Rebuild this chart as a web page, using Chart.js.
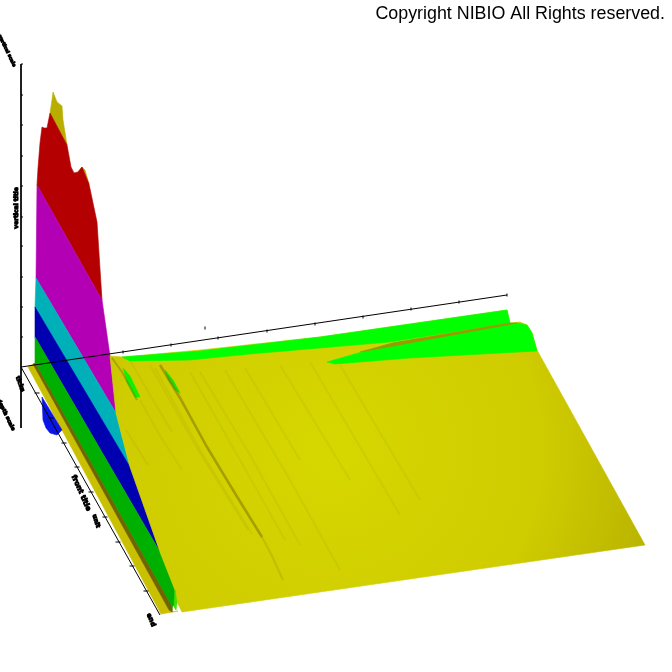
<!DOCTYPE html>
<html>
<head>
<meta charset="utf-8">
<title>Surface plot</title>
<script src="https://cdn.jsdelivr.net/npm/chart.js@4"></script>
<style>
  html, body { margin: 0; padding: 0; background: #fff; }
  canvas { display: block; }
</style>
</head>
<body>
<canvas id="surface" width="672" height="672"></canvas>
<script>

const surfaceOutline = [[110,356],[123,357],[200,350],[320,337],[507,310],[510,323],[520,322],[527,325],[532,333],[537,350],[645,545],[182,612],[176,600],[175,590],[160,552],[130,467],[116,413]];
const oliveCap = [[50,113],[52,100],[53,92],[57,102],[62,106],[63,120],[67,145]];
const oliveSideCap = [[82,167],[85,170],[89,184],[78,172]];
const redBand = [[37,185],[38,168],[40,143],[42,127],[44,128],[47,128],[50,113],[67,145],[71,167],[74,173],[78,172],[82,167],[89,184],[97,222],[102,300]];
const magentaBand = [[37,185],[102,300],[110,356],[116,413],[36,278]];
const cyanBand = [[36,278],[116,413],[122,437],[130,467],[35,307]];
const blueBand = [[35,307],[130,467],[160,552],[35,337]];
const greenBand = [[35,337],[160,552],[175,590],[177,603],[172,607],[35,363]];
const darkStrip = [[33,364],[35,363],[172,607],[172,612],[169,610]];
const lowerStrip = [[28,367],[33,364],[169,610],[172,612],[178,611],[161,614]];
const blueBlob = [[42,397],[43,420],[46,428],[50,433],[57,435],[62,430]];
const topGreen = [[122,357],[200,351],[320,337],[507,310],[510,323],[390,342],[320,348],[250,354],[190,360],[130,361]];
const lowerGreen = [[327,362],[393,343],[517,323],[527,325],[532,333],[537,351],[410,358],[335,364]];
const brownBand = [[393,343],[510,323],[517,323],[393,346],[360,352]];
const greenSpotA = [[123,368],[130,376],[140,397],[135,397],[127,382]];
const greenSpotB = [[165,370],[173,380],[180,393],[175,390],[168,379]];
const edgeGreen = [[175,590],[177,603],[176,610],[174,607]];

const cornerStreak = [[112,358],[122,372],[137,400]];
const mainStreak = [[160,365],[180,398],[207,447],[236,495],[262,537]];
const tailStreak = [[262,537],[272,556],[283,580]];
const streaks = [
  [[131,362],[150,395],[172,432]],
  [[150,365],[195,445],[248,530]],
  [[155,368],[200,450],[252,534]],
  [[126,430],[148,465]],
  [[140,400],[160,436],[182,470]],
  [[190,372],[240,460],[285,540]],
  [[200,372],[250,455],[300,545]],
  [[225,370],[290,480],[340,570]],
  [[245,368],[300,460]],
  [[280,365],[350,480]],
  [[310,362],[400,515]],
  [[340,365],[420,500]]
];

const zAxis = [[21,64],[21,428]];
const baseAxis = [[21,367],[507,295]];
const frontAxis = [[21,367],[160,615]];
const zTicksX = [22,22,22,22,22,22,22,22,22,22];
const zTicksY = [64,95,125,156,186,217,246,277,307,337];
const baseTicksX = [123,171,218,267,315,363,411,459,507,205];
const baseTicksY = [352,345,338,331,324,317,309,302,295,328];
const frontTicksX = [37,51,64,77,91,105,118,132,146];
const frontTicksY = [393,418,443,467,492,517,542,566,591];

const copyrightText = 'Copyright NIBIO All Rights reserved.';
// the axis titles are unreadable in the source, these only hold their place
const axisLabels = [
  { text: 'vertical scale', x: 7, y: 51, angle: 64, size: 4.6 },
  { text: 'vertical title', x: 16, y: 208, angle: -90, size: 6 },
  { text: 'depth scale', x: 6, y: 415, angle: 64, size: 5.2 },
  { text: 'ticks', x: 20, y: 384, angle: 70, size: 6 },
  { text: 'front title', x: 81, y: 493, angle: 66, size: 7 },
  { text: 'unit', x: 96, y: 521, angle: 72, size: 6 },
  { text: 'end', x: 151, y: 620, angle: 68, size: 6.5 }
];

function toPoints(list) {
  return list.map(p => ({ x: p[0], y: p[1] }));
}

function shape(list, color) {
  return {
    data: toPoints(list).concat(toPoints(list.slice(0, 1))),
    showLine: true,
    fill: 'shape',
    backgroundColor: color,
    borderColor: color,
    borderWidth: 0.6,
    pointRadius: 0,
    tension: 0
  };
}

function line(list, color, width) {
  return {
    data: toPoints(list),
    showLine: true,
    fill: false,
    borderColor: color,
    borderWidth: width,
    pointRadius: 0,
    tension: 0
  };
}

function ticks(xs, ys, style, size, rotation) {
  return {
    data: xs.map((x, i) => ({ x: x, y: ys[i] })),
    showLine: false,
    pointStyle: style,
    pointRadius: size,
    pointRotation: rotation,
    pointBorderColor: '#000',
    pointBorderWidth: 1,
    pointBackgroundColor: '#000'
  };
}

// radial shading of the big sheet, brightest near its middle
function sheetFill(context) {
  const g = context.chart.ctx.createRadialGradient(330, 450, 20, 330, 450, 340);
  g.addColorStop(0, '#d6d600');
  g.addColorStop(0.6, '#cfcc00');
  g.addColorStop(1, '#b8b200');
  return g;
}

const layers = [
  shape(lowerStrip, '#c8c000'),
  shape(blueBlob, '#0a14e6'),
  shape(oliveCap, '#b8ae00'),
  shape(oliveSideCap, '#b8ae00'),
  shape(redBand, '#b40000'),
  shape(magentaBand, '#b400b4'),
  shape(cyanBand, '#00b0b8'),
  shape(blueBand, '#0000b0'),
  shape(greenBand, '#00b000'),
  shape(darkStrip, '#6e6400'),
  shape(surfaceOutline, sheetFill),
  shape(topGreen, '#00ff00'),
  shape(lowerGreen, '#00ff00'),
  shape(brownBand, '#a09400'),
  shape(greenSpotA, '#10f000'),
  shape(greenSpotB, '#20e000'),
  shape(edgeGreen, '#40e000')
].concat(
  streaks.map(s => line(s, 'rgba(140,130,0,0.1)', 2))
).concat([
  line(cornerStreak, 'rgba(120,110,0,0.4)', 2),
  line(mainStreak, 'rgba(120,110,0,0.5)', 2.5),
  line(tailStreak, 'rgba(130,120,0,0.22)', 2),
  line(zAxis, '#000', 1),
  line(baseAxis, '#000', 1),
  line(frontAxis, '#000', 1),
  ticks(zTicksX, zTicksY, 'line', 1, 0),
  ticks(baseTicksX, baseTicksY, 'line', 1.5, 90),
  ticks(frontTicksX, frontTicksY, 'line', 2.5, 0)
]);

const textPlugin = {
  id: 'plotText',
  afterDraw(chart) {
    const c = chart.ctx;
    c.save();
    c.fillStyle = '#000';
    c.strokeStyle = '#000';
    c.textAlign = 'right';
    c.textBaseline = 'middle';
    c.font = '17.85px "Liberation Sans", Arial, sans-serif';
    c.fillText(copyrightText, 665, 14);
    c.textAlign = 'center';
    c.lineWidth = 1;
    axisLabels.forEach(l => {
      c.save();
      c.translate(chart.scales.x.getPixelForValue(l.x), chart.scales.y.getPixelForValue(l.y));
      c.rotate(l.angle * Math.PI / 180);
      c.font = 'bold ' + l.size + 'px "DejaVu Sans", sans-serif';
      c.fillText(l.text, 0, 0);
      c.strokeText(l.text, 0, 0);
      c.restore();
    });
    c.restore();
  }
};

// chart.js paints the first dataset last, so flip the painter's order
new Chart(document.getElementById('surface'), {
  type: 'scatter',
  data: { datasets: layers.slice().reverse() },
  plugins: [textPlugin],
  options: {
    responsive: false,
    animation: false,
    layout: { padding: 0, autoPadding: false },
    plugins: { legend: { display: false }, tooltip: { enabled: false } },
    scales: {
      x: { type: 'linear', min: 0, max: 672, display: false },
      y: { type: 'linear', min: 0, max: 672, reverse: true, display: false }
    }
  }
});
</script>
</body>
</html>
